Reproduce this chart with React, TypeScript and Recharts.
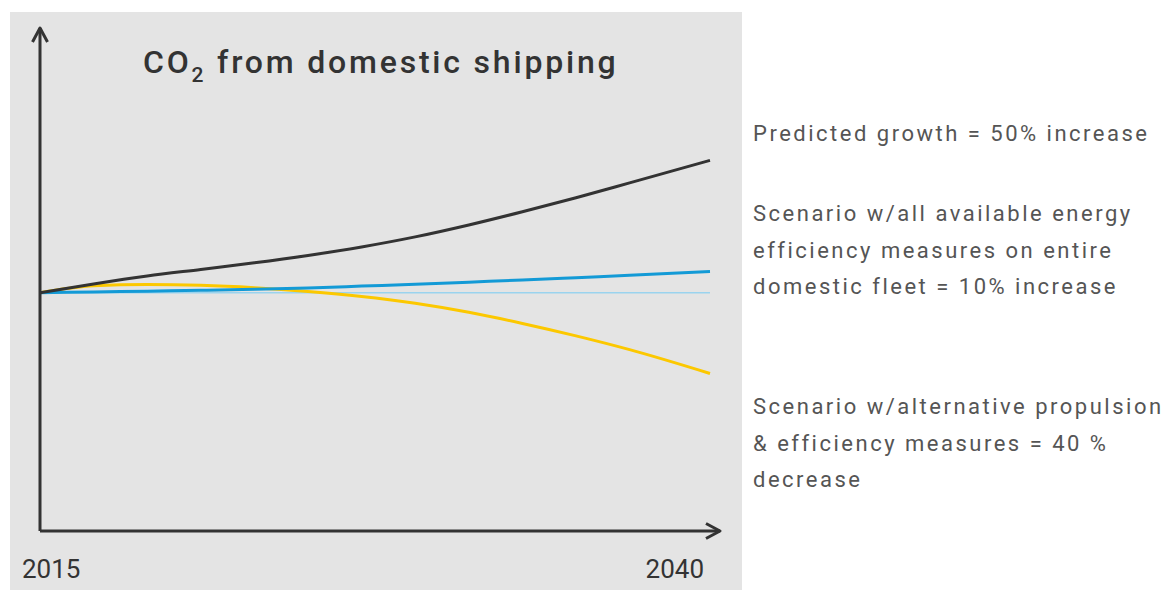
import React from "react";
import { LineChart, Line, XAxis, YAxis } from "recharts";

// index 2015 = 100
const years = [2015, 2017, 2019, 2021, 2023, 2025, 2027, 2029, 2031, 2033, 2035, 2037, 2040];
const predictedGrowth = [100, 103.3, 106.3, 108.8, 111.3, 114.1, 117.3, 121.1, 125.6, 130.6, 135.9, 141.5, 150];
const efficiencyScenario = [100, 100.3, 100.6, 100.9, 101.3, 101.8, 102.5, 103.2, 104, 104.8, 105.7, 106.6, 108];
const alternativeScenario = [100, 102.6, 103.1, 102.8, 101.9, 100.5, 98.6, 96, 92.6, 88.4, 83.7, 78.5, 69.5];
const baselineLevel = [100, 100, 100, 100, 100, 100, 100, 100, 100, 100, 100, 100, 100];

const xTicks = [2015, 2040];

const notes = [
  ["Predicted growth = 50% increase"],
  [
    "Scenario w/all available energy",
    "efficiency measures on entire",
    "domestic fleet = 10% increase",
  ],
  [
    "Scenario w/alternative propulsion",
    "& efficiency measures = 40 %",
    "decrease",
  ],
];

const data = years.map((year, i) => ({
  year,
  predicted: predictedGrowth[i],
  efficiency: efficiencyScenario[i],
  alternative: alternativeScenario[i],
  baseline: baselineLevel[i],
}));

const YearTick = (props: any) => {
  const { x, y, payload, index } = props;
  const first = index === 0;
  return (
    <text
      x={first ? x - 18 : x - 6}
      y={y + 47}
      textAnchor={first ? "start" : "end"}
      fill="#333"
      fontSize={26}
      fontFamily="Roboto, sans-serif"
    >
      {payload.value}
    </text>
  );
};

export default function App() {
  const noteTops = [141, 221, 414];
  return (
    <div style={{ position: "absolute", left: 0, top: 0, width: 1174, height: 590, background: "#fff" }}>
      <svg width={0} height={0} style={{ position: "absolute" }}>
        <defs>
          <marker
            id="arrowHead"
            viewBox="0 0 20 20"
            refX={16}
            refY={10}
            markerWidth={20}
            markerHeight={20}
            markerUnits="userSpaceOnUse"
            orient="auto-start-reverse"
          >
            <path d="M2,2.5 L16,10 L2,17.5" fill="none" stroke="#333" strokeWidth={3} strokeLinejoin="round" />
          </marker>
        </defs>
      </svg>
      <div style={{ position: "absolute", left: 10, top: 12, width: 732, height: 578, background: "#e4e4e4" }} />
      <div style={{ position: "absolute", left: 0, top: 0 }}>
        <LineChart width={742} height={590} data={data} margin={{ top: 28, right: 22, left: 30, bottom: 0 }}>
          <XAxis
            dataKey="year"
            type="number"
            domain={[2015, 2040]}
            ticks={xTicks}
            padding={{ left: 0, right: 10 }}
            tickLine={false}
            tickSize={0}
            tickMargin={0}
            height={59}
            tick={<YearTick />}
            axisLine={{ stroke: "#333", strokeWidth: 3, markerEnd: "url(#arrowHead)" }}
          />
          <YAxis
            type="number"
            domain={[10, 200]}
            width={10}
            tick={false}
            tickLine={false}
            axisLine={{ stroke: "#333", strokeWidth: 3, markerStart: "url(#arrowHead)" }}
          />
          <Line dataKey="baseline" type="monotone" stroke="#9ad3ee" strokeWidth={1.5} dot={false} activeDot={false} isAnimationActive={false} />
          <Line dataKey="alternative" type="monotone" stroke="#fcc800" strokeWidth={3} dot={false} activeDot={false} isAnimationActive={false} />
          <Line dataKey="efficiency" type="monotone" stroke="#139ad6" strokeWidth={3} dot={false} activeDot={false} isAnimationActive={false} />
          <Line dataKey="predicted" type="monotone" stroke="#333" strokeWidth={3} dot={false} activeDot={false} isAnimationActive={false} />
        </LineChart>
      </div>
      <svg width={1174} height={590} style={{ position: "absolute", left: 0, top: 0, pointerEvents: "none" }}>
        <text x={143} y={73} fill="#333" fontSize={32} fontWeight={500} fontFamily="Roboto, sans-serif" letterSpacing={2.8}>
          CO
          <tspan fontSize={21} dy={9}>2</tspan>
          <tspan dy={-9}> from domestic shipping</tspan>
        </text>
        {notes.map((block, b) =>
          block.map((line, i) => (
            <text
              key={`${b}-${i}`}
              x={753}
              y={noteTops[b] + i * 36.7}
              fill="#555"
              fontSize={22}
              fontFamily="Roboto, sans-serif"
              letterSpacing={2.5}
            >
              {line}
            </text>
          ))
        )}
      </svg>
    </div>
  );
}
